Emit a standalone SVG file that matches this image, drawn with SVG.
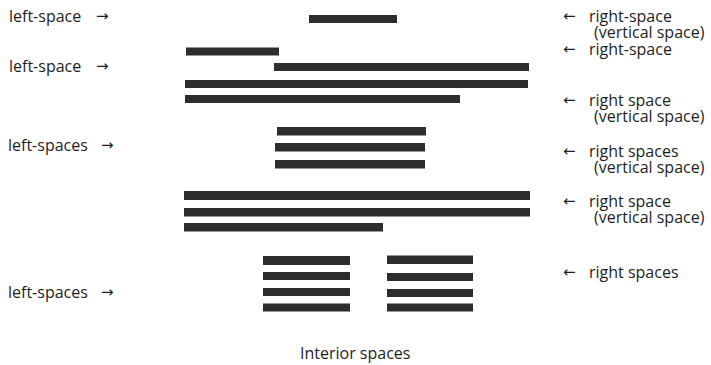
<svg xmlns="http://www.w3.org/2000/svg" width="711" height="365" viewBox="0 0 711 365">
<style>
.t{font-family:"Open Sans","Noto Sans",sans-serif;font-size:16px;fill:#1e1e1e}
.a{font-family:"DejaVu Sans",sans-serif;font-size:15px;fill:#1e1e1e}
.b{fill:#2d2d2d}
</style>
<rect width="711" height="365" fill="#fff"/>
<g id="bars">
<rect class="b" x="309" y="15" width="88" height="8"/>
<rect class="b" x="186" y="47.5" width="93" height="8"/>
<rect class="b" x="274" y="63" width="255" height="8"/>
<rect class="b" x="185" y="80" width="343" height="8"/>
<rect class="b" x="185" y="95" width="275" height="8"/>
<rect class="b" x="277" y="127" width="149" height="8.5"/>
<rect class="b" x="275" y="143" width="150" height="8.5"/>
<rect class="b" x="275" y="160" width="150" height="8.5"/>
<rect class="b" x="184" y="191" width="346" height="9"/>
<rect class="b" x="184" y="208" width="346" height="8.5"/>
<rect class="b" x="184" y="223" width="199" height="8.5"/>
<rect class="b" x="263" y="256" width="87" height="9"/>
<rect class="b" x="263" y="272" width="87" height="8"/>
<rect class="b" x="263" y="288" width="87" height="8"/>
<rect class="b" x="263" y="303.5" width="87" height="8"/>
<rect class="b" x="387" y="255.5" width="86" height="8.5"/>
<rect class="b" x="387" y="273" width="86" height="8"/>
<rect class="b" x="387" y="289" width="86" height="8"/>
<rect class="b" x="387" y="303.5" width="86" height="8"/>
</g>
<g id="left-labels">
<text class="t" x="9" y="22">left-space</text>
<text class="a" x="96" y="21">→</text>
<text class="t" x="9" y="72">left-space</text>
<text class="a" x="96" y="71">→</text>
<text class="t" x="8" y="151">left-spaces</text>
<text class="a" x="101" y="150">→</text>
<text class="t" x="8" y="298">left-spaces</text>
<text class="a" x="101" y="297">→</text>
</g>
<g id="right-labels">
<text class="a" x="563" y="21">←</text>
<text class="t" x="589" y="22">right-space</text>
<text class="t" x="594" y="38">(vertical space)</text>
<text class="a" x="563" y="54">←</text>
<text class="t" x="589" y="55">right-space</text>
<text class="a" x="563" y="105">←</text>
<text class="t" x="589" y="106">right space</text>
<text class="t" x="594" y="122">(vertical space)</text>
<text class="a" x="563" y="156">←</text>
<text class="t" x="589" y="157">right spaces</text>
<text class="t" x="594" y="173">(vertical space)</text>
<text class="a" x="563" y="206">←</text>
<text class="t" x="589" y="207">right space</text>
<text class="t" x="594" y="223">(vertical space)</text>
<text class="a" x="563" y="277">←</text>
<text class="t" x="589" y="278">right spaces</text>
</g>
<g id="caption">
<text class="t" x="300" y="359">Interior spaces</text>
</g>
</svg>
